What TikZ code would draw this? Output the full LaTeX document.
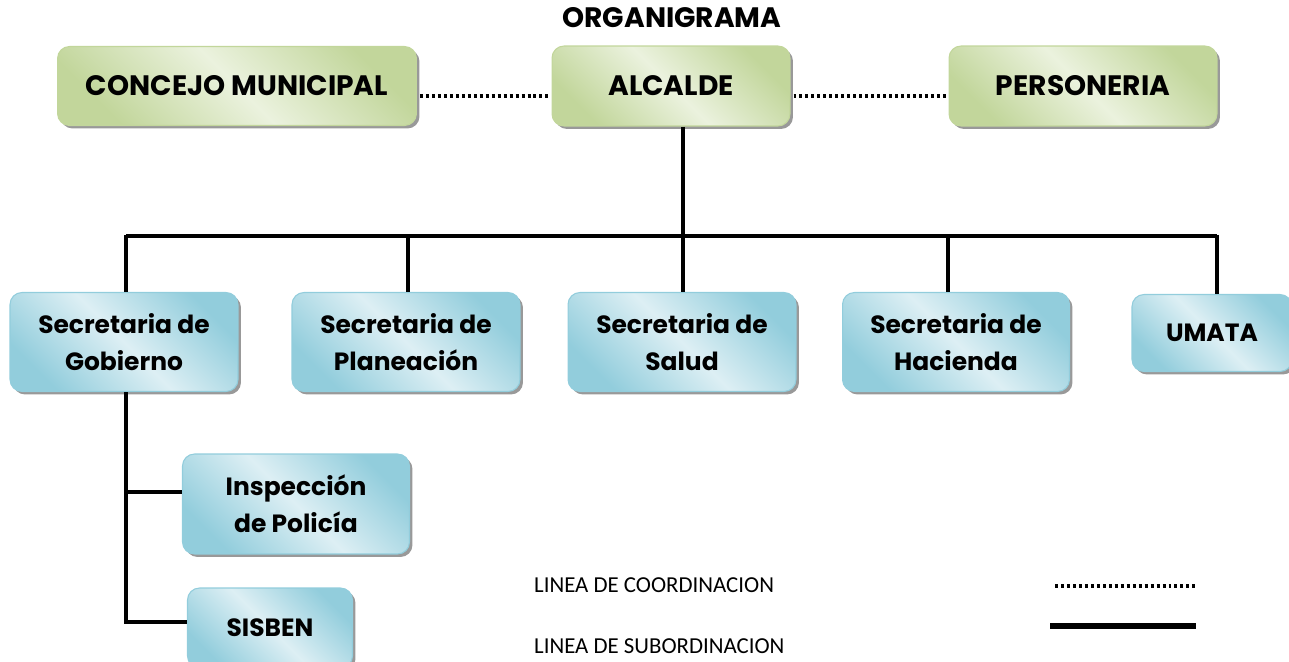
\documentclass[tikz,border=0pt]{standalone}
\usepackage{fontspec}
\setmainfont{Carlito}
\newfontfamily\boxfont{Poppins}
\usetikzlibrary{shadows}

\definecolor{greenDark}{HTML}{C2D69B}
\definecolor{greenLight}{HTML}{EBF2DE}
\definecolor{blueDark}{HTML}{92CDDC}
\definecolor{blueLight}{HTML}{DDEFF4}

\tikzset{
  unit/.style={rounded corners=0.24cm, align=center,
    drop shadow={shadow xshift=0.06cm, shadow yshift=-0.06cm, fill=black!40, opacity=1}},
  headbox/.style={unit, font=\boxfont\bfseries\fontsize{16}{20}\selectfont, draw=greenDark, line width=0.6pt,
    left color=greenDark, right color=greenDark, middle color=greenLight, shading angle=135},
  deptbox/.style={unit, font=\boxfont\bfseries\fontsize{14.2}{21}\selectfont, draw=blueDark, line width=0.6pt,
    left color=blueDark, right color=blueDark, middle color=blueLight, shading angle=135},
  subline/.style={line width=2.3pt},
  coordline/.style={line width=2.3pt, dash pattern=on 1.7pt off 1.7pt}
}

\begin{document}
\begin{tikzpicture}[x=0.02cm,y=-0.02cm]
\useasboundingbox (0,0) rectangle (1289,662);

\node[font=\boxfont\bfseries\fontsize{16}{18}\selectfont] (title) at (672,18) {ORGANIGRAMA};

% cabeza
\node[headbox, minimum width=7.18cm, minimum height=1.58cm] (concejo) at (237,86) {CONCEJO MUNICIPAL};
\node[headbox, minimum width=4.76cm, minimum height=1.6cm] (alcalde) at (671,86) {ALCALDE};
\node[headbox, minimum width=5.36cm, minimum height=1.6cm] (personeria) at (1083,86) {PERSONERIA};

% secretarias
\node[deptbox, minimum width=4.56cm, minimum height=1.98cm] (gobierno) at (124,342) {Secretaria de\\Gobierno};
\node[deptbox, minimum width=4.56cm, minimum height=1.98cm] (planeacion) at (406,342) {Secretaria de\\Planeación};
\node[deptbox, minimum width=4.56cm, minimum height=1.98cm] (salud) at (682,342) {Secretaria de\\Salud};
\node[deptbox, minimum width=4.54cm, minimum height=1.98cm] (hacienda) at (956,342) {Secretaria de\\Hacienda};
\node[deptbox, minimum width=3.2cm, minimum height=1.54cm] (umata) at (1212,333) {UMATA};

% dependencias de gobierno
\node[deptbox, minimum width=4.54cm, minimum height=2cm] (inspeccion) at (296,504) {Inspección\\de Policía};
\node[deptbox, minimum width=3.3cm, minimum height=1.6cm] (sisben) at (270,628) {SISBEN};

% lineas de coordinacion
\draw[coordline] ([xshift=0.06cm]concejo.east |- 0,96) -- ([xshift=-0.06cm]alcalde.west |- 0,96);
\draw[coordline] ([xshift=0.06cm]alcalde.east |- 0,96) -- ([xshift=-0.06cm]personeria.west |- 0,96);

% lineas de subordinacion
\coordinate (bar) at (683,236);
\draw[subline] (683,127) -- (bar);
\draw[subline] (126,236) -- (1217,236);
\draw[subline] (126,234.9) -- (126,0 |- gobierno.north);
\draw[subline] (408,234.9) -- (408,0 |- planeacion.north);
\draw[subline] (683,234.9) -- (683,0 |- salud.north);
\draw[subline] (948,234.9) -- (948,0 |- hacienda.north);
\draw[subline] (1217,234.9) -- (1217,0 |- umata.north);
\coordinate (gobdown) at (126,622);
\draw[subline] (126,0 |- gobierno.south) -- (gobdown) -- (sisben.west |- gobdown);
\draw[subline] (126,492) -- (inspeccion.west |- 0,492);

% leyenda
\node[anchor=west, font=\fontsize{13}{15}\selectfont] (coordtext) at (528,585) {LINEA DE COORDINACION};
\node[anchor=west, font=\fontsize{13}{15}\selectfont] (subtext) at (528,646) {LINEA DE SUBORDINACION};
\coordinate (coordA) at (1055,586);
\coordinate (coordB) at (1196,586);
\draw[coordline] (coordA) -- (coordB);
\coordinate (subA) at (1050,626);
\coordinate (subB) at (1196,626);
\draw[line width=3pt] (subA) -- (subB);
\end{tikzpicture}
\end{document}
